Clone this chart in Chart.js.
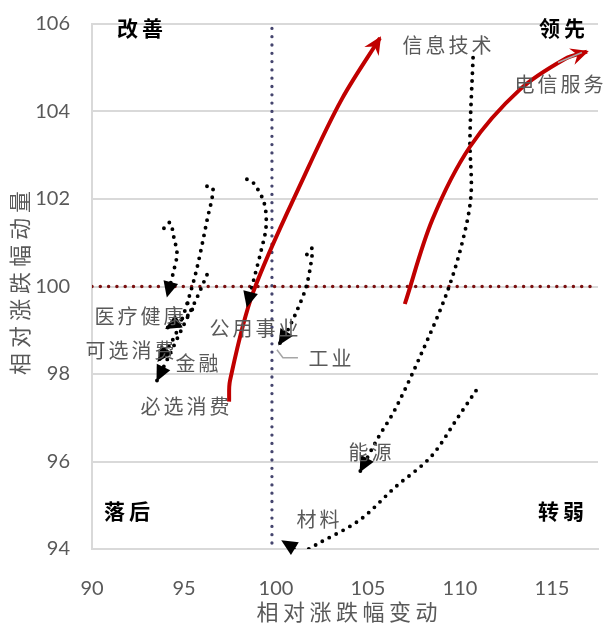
<!DOCTYPE html>
<html>
<head>
<meta charset="utf-8">
<script src="https://cdn.jsdelivr.net/npm/chart.js@4.4.1/dist/chart.umd.min.js"></script>
<style>
  html, body { margin: 0; padding: 0; background: #ffffff; }
  #wrap { width: 607px; height: 626px; }
</style>
</head>
<body>
<div id="wrap"><canvas id="rrg" width="607" height="626"></canvas></div>
<script>
// Sector rotation trails: x = 相对涨跌幅变动, y = 相对涨跌幅动量 (oldest point first)
const sectorNames = ['信息技术', '电信服务', '医疗健康', '可选消费', '金融', '必选消费', '公用事业', '工业', '能源', '材料'];

const itX = [97.45, 97.5, 98.75, 101.7, 103.6, 105.65];
const itY = [97.37, 97.85, 99.86, 102.67, 104.3, 105.68];

const telecomX = [107.0, 108.5, 110.55, 113.25, 115.7, 116.9];
const telecomY = [99.6, 101.53, 103.2, 104.5, 105.2, 105.37];

const healthX = [93.91, 94.24, 94.46, 94.62, 94.46, 94.08];
const healthY = [101.33, 101.46, 101.1, 100.75, 100.39, 99.77];

const discretionaryX = [95.2, 95.45, 95.0, 94.02];
const discretionaryY = [99.62, 99.45, 99.28, 99.04];

const financeX = [96.25, 96.58, 96.25, 95.71, 95.27, 94.78, 94.24, 93.59];
const financeY = [102.29, 102.24, 101.51, 100.43, 99.75, 99.13, 98.67, 98.29];

const staplesX = [96.25, 95.71, 94.95, 94.35, 93.53];
const staplesY = [100.27, 99.75, 99.09, 98.56, 97.85];

const utilitiesX = [98.42, 98.75, 99.35, 99.46, 99.18, 98.86, 98.42];
const utilitiesY = [102.45, 102.38, 101.92, 101.37, 100.8, 100.27, 99.54];

const industrialsX = [101.68, 101.96, 101.9, 101.63, 101.14, 100.6, 100.16];
const industrialsY = [100.73, 100.87, 100.53, 99.98, 99.45, 98.97, 98.67];

const energyX = [110.71, 110.54, 110.6, 110.16, 109.29, 107.83, 106.47, 105.49, 104.57];
const energyY = [105.23, 103.36, 102.1, 101.07, 99.86, 98.4, 97.19, 96.5, 95.77];

const materialsX = [110.87, 109.89, 108.42, 106.47, 104.57, 102.39, 101.3, 100.33];
const materialsY = [97.62, 97.01, 96.11, 95.41, 94.67, 94.15, 93.94, 94.19];

// Reference cross lines
const crossX = 99.78;
const crossY = 100;

// Axis ranges and ticks
const xMin = 90, xMax = 117.5, xStep = 5;
const yMin = 94, yMax = 106, yStep = 2;

const quadrantNames = ['改善', '领先', '落后', '转弱'];
const xTitle = '相对涨跌幅变动';
const yTitle = '相对涨跌幅动量';

const trailX = [itX, telecomX, healthX, discretionaryX, financeX, staplesX, utilitiesX, industrialsX, energyX, materialsX];
const trailY = [itY, telecomY, healthY, discretionaryY, financeY, staplesY, utilitiesY, industrialsY, energyY, materialsY];
const highlighted = ['信息技术', '电信服务'];

// Label placement relative to each trail's end point (px), plus optional leader lines
const labelStyle = {
  '信息技术': { dx: 67, dy: 7 },
  '电信服务': { dx: -28, dy: 33, leader: [[-5, 1], [-29, 11]] },
  '医疗健康': { dx: -28, dy: 20 },
  '可选消费': { dx: -36, dy: 22 },
  '金融': { dx: 39, dy: 2 },
  '必选消费': { dx: 28, dy: 26 },
  '公用事业': { dx: 7, dy: 22 },
  '工业': { dx: 51, dy: 14, leader: [[-2, 5], [4, 13], [19, 13]] },
  '能源': { dx: 10, dy: -19 },
  '材料': { dx: 36, dy: -21 }
};

const toPoints = (xs, ys) => xs.map((x, i) => ({ x: x, y: ys[i] }));

const datasets = sectorNames.map((name, i) => {
  const red = highlighted.includes(name);
  return {
    label: name,
    data: toPoints(trailX[i], trailY[i]),
    showLine: true,
    borderColor: red ? '#c00000' : '#000000',
    borderWidth: red ? 4 : 3.9,
    borderDash: red ? [] : [0, 7.8],
    borderCapStyle: red ? 'butt' : 'round',
    tension: 0.33,
    pointRadius: 0,
    pointHoverRadius: 0,
    arrow: red ? 'stealth' : 'triangle'
  };
});

datasets.push({
  label: 'h-ref',
  data: [{ x: xMin, y: crossY }, { x: xMax, y: crossY }],
  showLine: true, borderColor: '#7a1010', borderWidth: 3.5,
  borderDash: [0, 8.3], borderCapStyle: 'round', pointRadius: 0, tension: 0
});
datasets.push({
  label: 'v-ref',
  data: [{ x: crossX, y: yMax - 0.1 }, { x: crossX, y: yMin }],
  showLine: true, borderColor: '#45456e', borderWidth: 3.3,
  borderDash: [0, 8.3], borderCapStyle: 'round', pointRadius: 0, tension: 0
});

// Arrowheads at the end of each trail, oriented along the last curve segment
const arrowHeads = {
  id: 'arrowHeads',
  afterDatasetsDraw(chart) {
    const ctx = chart.ctx;
    chart.data.datasets.forEach((ds, i) => {
      if (!ds.arrow) return;
      const pts = chart.getDatasetMeta(i).data;
      const last = pts[pts.length - 1];
      const prev = pts[pts.length - 2];
      let fx = last.cp1x, fy = last.cp1y;
      if (fx === undefined || Math.hypot(last.x - fx, last.y - fy) < 0.5) { fx = prev.x; fy = prev.y; }
      const ang = Math.atan2(last.y - fy, last.x - fx);
      ctx.save();
      ctx.translate(last.x, last.y);
      ctx.rotate(ang);
      ctx.fillStyle = ds.borderColor;
      ctx.beginPath();
      if (ds.arrow === 'stealth') {
        ctx.moveTo(2, 0); ctx.lineTo(-16, -8.5); ctx.lineTo(-10, 0); ctx.lineTo(-16, 8.5);
      } else {
        ctx.moveTo(1, 0); ctx.lineTo(-15, -7.5); ctx.lineTo(-15, 7.5);
      }
      ctx.closePath();
      ctx.fill();
      ctx.restore();
    });
  }
};

function drawSpaced(ctx, text, x, y, spacing) {
  ctx.letterSpacing = spacing + 'px';
  ctx.fillText(text, x + spacing / 2, y);
  ctx.letterSpacing = '0px';
}

// Sector names, quadrant names and axis titles
const textLayer = {
  id: 'textLayer',
  afterDraw(chart) {
    const ctx = chart.ctx;
    const a = chart.chartArea;
    ctx.save();
    ctx.textAlign = 'center';
    ctx.textBaseline = 'middle';

    // sector labels + leader lines
    chart.data.datasets.forEach((ds, i) => {
      const st = labelStyle[ds.label];
      if (!st) return;
      const pts = chart.getDatasetMeta(i).data;
      const last = pts[pts.length - 1];
      if (st.leader) {
        ctx.strokeStyle = '#a6a6a6';
        ctx.lineWidth = 1.5;
        ctx.beginPath();
        st.leader.forEach((p, k) => {
          if (k === 0) ctx.moveTo(last.x + p[0], last.y + p[1]);
          else ctx.lineTo(last.x + p[0], last.y + p[1]);
        });
        ctx.stroke();
      }
      ctx.fillStyle = '#595959';
      ctx.font = '20px "Noto Sans CJK SC"';
      drawSpaced(ctx, ds.label, last.x + st.dx, last.y + st.dy, 3);
    });

    // quadrant names
    ctx.fillStyle = '#000000';
    ctx.font = 'bold 21px "Noto Sans CJK SC"';
    drawSpaced(ctx, quadrantNames[0], a.left + 48, a.top + 4, 4);
    drawSpaced(ctx, quadrantNames[1], a.right - 36, a.top + 4, 4);
    drawSpaced(ctx, quadrantNames[2], a.left + 35, a.bottom - 38, 4);
    drawSpaced(ctx, quadrantNames[3], a.right - 37, a.bottom - 38, 4);

    // axis titles
    ctx.fillStyle = '#595959';
    ctx.font = '22px "Noto Sans CJK SC"';
    drawSpaced(ctx, xTitle, (a.left + a.right) / 2 + 2, 612, 4.5);
    ctx.translate(20, 283);
    ctx.rotate(-Math.PI / 2);
    drawSpaced(ctx, yTitle, 0, 0, 5);
    ctx.restore();
  }
};

new Chart(document.getElementById('rrg'), {
  type: 'scatter',
  data: { datasets: datasets },
  options: {
    responsive: false,
    animation: false,
    devicePixelRatio: 1,
    layout: { padding: { left: 0, right: 9, top: 24, bottom: 0 } },
    plugins: { legend: { display: false }, tooltip: { enabled: false } },
    scales: {
      x: {
        type: 'linear', min: xMin, max: xMax,
        ticks: { stepSize: xStep, includeBounds: false, color: '#595959', padding: 28, maxRotation: 0,
                 font: { family: 'Lato', size: 20 } },
        grid: { display: false, drawTicks: false },
        border: { display: true, color: '#d9d9d9', width: 2 },
        afterFit(s) { s.height = 77; }
      },
      y: {
        type: 'linear', min: yMin, max: yMax,
        ticks: { stepSize: yStep, color: '#595959', padding: 22, font: { family: 'Lato', size: 20 } },
        grid: { color: '#d9d9d9', lineWidth: 2, drawTicks: false },
        border: { display: true, color: '#d9d9d9', width: 2 },
        afterFit(s) { s.width = 92; s.paddingTop = 12; s.paddingBottom = 12; }
      }
    }
  },
  plugins: [arrowHeads, textLayer]
});
</script>
</body>
</html>
